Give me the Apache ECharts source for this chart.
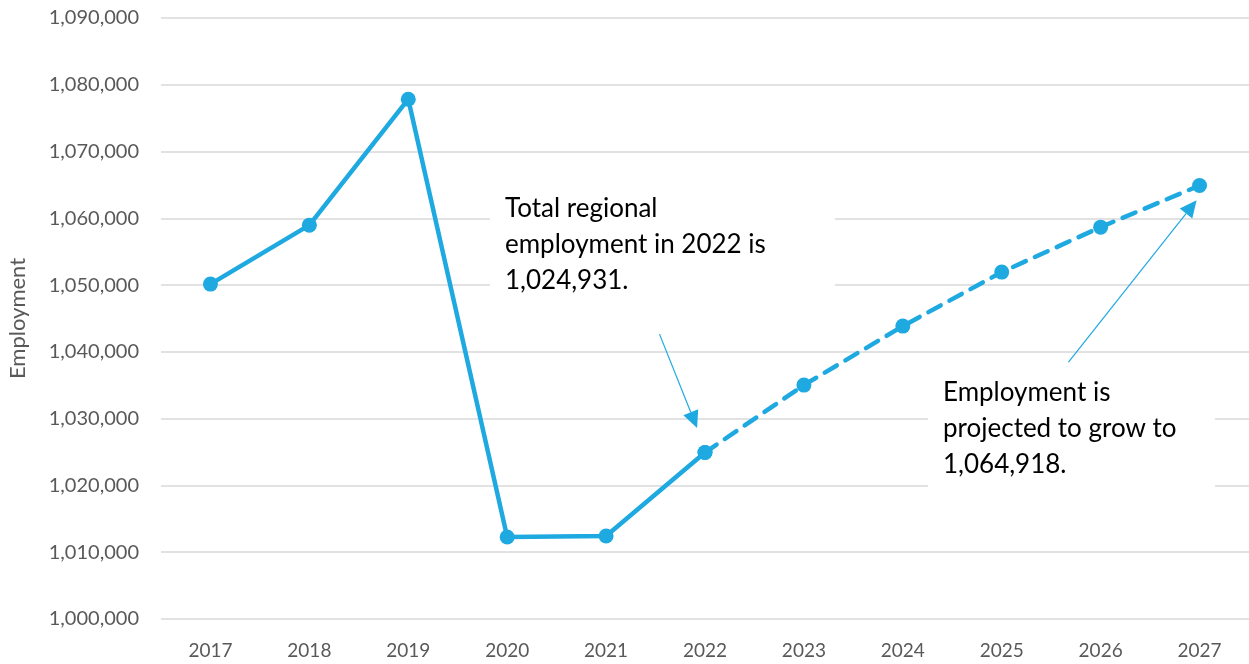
<!DOCTYPE html>
<html>
<head>
<meta charset="utf-8">
<script src="https://cdn.jsdelivr.net/npm/echarts@6/dist/echarts.min.js"></script>
<style>
  html, body { margin: 0; padding: 0; background: #fff; }
  #chart { width: 1249px; height: 664px; }
</style>
</head>
<body>
<div id="chart"></div>
<script>
const years = ['2017', '2018', '2019', '2020', '2021', '2022', '2023', '2024', '2025', '2026', '2027']
const employment = [1050150, 1058980, 1077840, 1012280, 1012420, 1024931, 1035030, 1043860, 1051950, 1058680, 1064918]
// last actual year, the rest is projected
const lastActualIndex = 5

const yMin = 1000000
const yMax = 1090000
const yStep = 10000

const noteActual = ['Total regional', 'employment in 2022 is', '1,024,931.']
const noteProjected = ['Employment is', 'projected to grow to', '1,064,918.']

// arrows in data space: [categoryIndex, value]
const arrowActual = [[4.54, 1042660], [4.92, 1028590]]
const arrowProjected = [[8.675, 1038470], [9.97, 1062720]]

const lineColor = '#1fa9e1'
const textColor = '#595959'
const fontFamily = 'Lato, "Open Sans", sans-serif'

const actualData = employment.map((v, i) => (i <= lastActualIndex ? v : null))
const projectedData = employment.map((v, i) => (i >= lastActualIndex ? v : null))

const chart = echarts.init(document.getElementById('chart'))

const option = {
  animation: false,
  grid: { left: 161, right: 0, top: 18, bottom: 45, outerBoundsMode: 'none', containLabel: false },
  xAxis: {
    type: 'category',
    data: years,
    axisLine: { show: false },
    axisTick: { show: false },
    axisLabel: { color: textColor, fontSize: 19, fontFamily, margin: 22 }
  },
  yAxis: {
    type: 'value',
    min: yMin,
    max: yMax,
    interval: yStep,
    name: 'Employment',
    nameLocation: 'middle',
    nameGap: 132,
    nameRotate: 90,
    nameTextStyle: { color: textColor, fontSize: 22, fontFamily },
    axisLabel: {
      color: textColor,
      fontSize: 20,
      fontFamily,
      margin: 22,
      formatter: v => v.toLocaleString('en-US')
    },
    splitLine: { lineStyle: { color: '#d9d9d9', width: 1.5 } }
  },
  series: [
    {
      name: 'Actual',
      type: 'line',
      data: actualData,
      symbol: 'circle',
      symbolSize: 15,
      itemStyle: { color: lineColor },
      lineStyle: { color: lineColor, width: 4.5, cap: 'round' },
      z: 3
    },
    {
      name: 'Projected',
      type: 'line',
      data: projectedData,
      symbol: 'circle',
      symbolSize: 15,
      itemStyle: { color: lineColor },
      lineStyle: { color: lineColor, width: 4.5, type: [14, 10], cap: 'round' },
      z: 3
    }
  ]
}

chart.setOption(option)

// category axis only maps whole indices, so interpolate between neighbours
const toPx = ([idx, val]) => {
  const i0 = Math.floor(idx)
  const p0 = chart.convertToPixel({ gridIndex: 0 }, [i0, val])
  const p1 = chart.convertToPixel({ gridIndex: 0 }, [i0 + 1, val])
  const t = idx - i0
  return [p0[0] + (p1[0] - p0[0]) * t, p0[1]]
}

const makeNote = (lines, x, y, w, h) => ({
  type: 'group',
  left: x,
  top: y,
  z: 10,
  children: [
    { type: 'rect', shape: { x: 0, y: 0, width: w, height: h }, style: { fill: '#fff' } },
    {
      type: 'text',
      x: 15,
      y: 4,
      style: {
        text: lines.join('\n'),
        fill: '#000',
        font: '26px ' + fontFamily,
        lineHeight: 36
      }
    }
  ]
})

const makeArrow = (pts) => {
  const a = toPx(pts[0])
  const b = toPx(pts[1])
  const ang = Math.atan2(b[1] - a[1], b[0] - a[0])
  const len = 17
  const half = 8
  const bx = b[0] - len * Math.cos(ang)
  const by = b[1] - len * Math.sin(ang)
  const nx = -Math.sin(ang) * half
  const ny = Math.cos(ang) * half
  return [
    {
      type: 'line',
      z: 11,
      shape: { x1: a[0], y1: a[1], x2: bx, y2: by },
      style: { stroke: lineColor, lineWidth: 1.2 }
    },
    {
      type: 'polygon',
      z: 11,
      shape: { points: [b, [bx + nx, by + ny], [bx - nx, by - ny]] },
      style: { fill: lineColor }
    }
  ]
}

chart.setOption({
  graphic: [
    makeNote(noteActual, 490, 187, 345, 112),
    makeNote(noteProjected, 928, 371, 287, 124),
    ...makeArrow(arrowActual),
    ...makeArrow(arrowProjected)
  ]
})

window.addEventListener('resize', () => chart.resize())
</script>
</body>
</html>
